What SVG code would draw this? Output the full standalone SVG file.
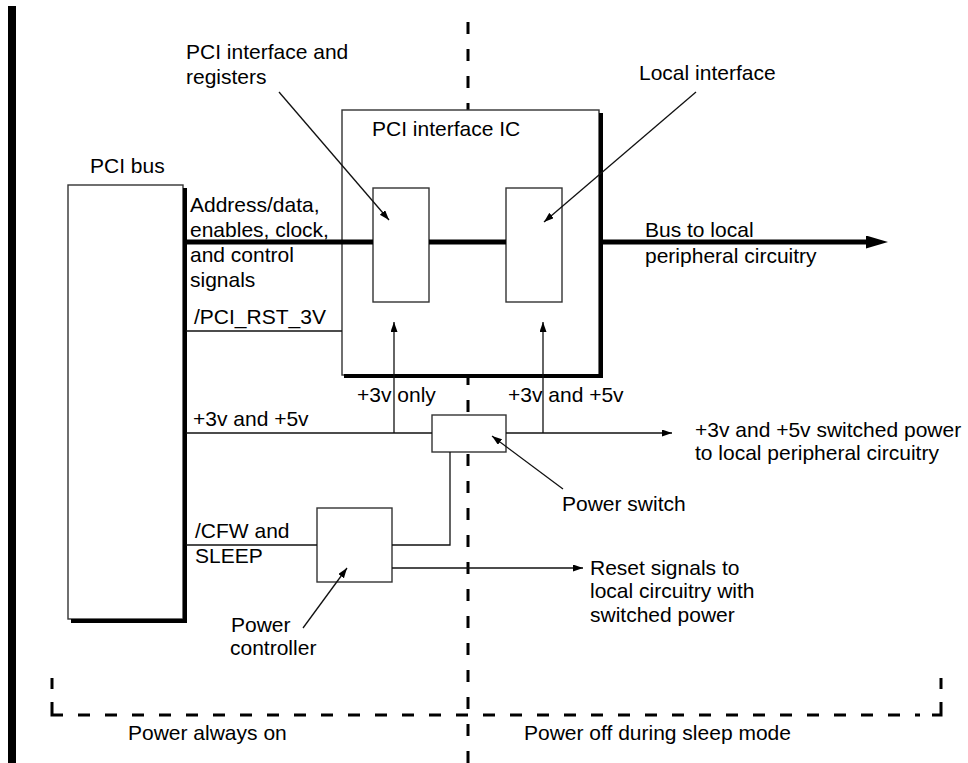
<svg xmlns="http://www.w3.org/2000/svg" width="968" height="763" viewBox="0 0 968 763">
<style>
  text { font-family: "Liberation Sans", Arial, Helvetica, sans-serif; font-size: 21px; fill: #000; }
  .box { fill: #fff; stroke: #333; stroke-width: 1.4; }
  .shadow { fill: none; stroke: #000; stroke-width: 4; }
  .thin { fill: none; stroke: #111; stroke-width: 1.3; }
  .bus { fill: none; stroke: #000; stroke-width: 5; }
  .dash { fill: none; stroke: #000; stroke-width: 3; }
</style>
<defs>
  <marker id="ah" markerUnits="userSpaceOnUse" markerWidth="10" markerHeight="8" refX="10" refY="3.5" orient="auto">
    <path d="M0,0 L10,3.5 L0,7 z" fill="#000"/>
  </marker>
  <marker id="bigah" markerUnits="userSpaceOnUse" markerWidth="23" markerHeight="14" refX="0" refY="6.5" orient="auto">
    <path d="M0,0 L22,6.5 L0,13 z" fill="#000"/>
  </marker>
</defs>
<rect width="968" height="763" fill="#fff"/>

<!-- left border bar -->
<rect x="8" y="6" width="8" height="757" fill="#000"/>

<!-- power domain separators -->
<g id="domains">
  <line class="dash" x1="468" y1="22" x2="468" y2="763" stroke-dasharray="12 15"/>
  <line class="dash" x1="52" y1="678" x2="52" y2="689"/>
  <polyline class="dash" points="52,702 52,715 63,715"/>
  <line class="dash" x1="78" y1="715" x2="920" y2="715" stroke-dasharray="12 15"/>
  <line class="dash" x1="941" y1="678" x2="941" y2="689"/>
  <polyline class="dash" points="932,715 941,715 941,702"/>
  <text x="128" y="740">Power always on</text>
  <text x="524" y="740">Power off during sleep mode</text>
</g>

<g id="pci-bus">
  <rect class="box" x="68" y="185" width="115" height="434"/>
  <polyline class="shadow" points="185,188 185,621 71,621"/>
  <text x="90" y="173">PCI bus</text>
</g>

<g id="pci-ic">
  <rect class="box" x="342" y="110" width="257" height="265"/>
  <polyline class="shadow" points="601,113 601,376 344,376"/>
  <text x="372" y="136">PCI interface IC</text>
</g>

<g id="pci-regs">
  <rect class="box" x="373" y="188" width="56" height="114"/>
</g>

<g id="local-if">
  <rect class="box" x="506" y="188" width="56" height="114"/>
</g>

<g id="power-switch">
  <rect class="box" x="432" y="415" width="74" height="37"/>
</g>

<g id="power-controller">
  <rect class="box" x="317" y="508" width="75" height="74"/>
</g>

<g id="connectors">
  <!-- main bus -->
  <line class="bus" x1="186" y1="242" x2="373" y2="242"/>
  <line class="bus" x1="429" y1="242" x2="506" y2="242"/>
  <line class="bus" x1="603" y1="242" x2="866" y2="242" marker-end="url(#bigah)"/>
  <!-- reset -->
  <line class="thin" x1="186" y1="331" x2="342" y2="331"/>
  <!-- power -->
  <line class="thin" x1="186" y1="433" x2="432" y2="433"/>
  <line class="thin" x1="506" y1="433" x2="672" y2="433" marker-end="url(#ah)"/>
  <line class="thin" x1="394" y1="433" x2="394" y2="322" marker-end="url(#ah)"/>
  <line class="thin" x1="543" y1="433" x2="543" y2="322" marker-end="url(#ah)"/>
  <!-- control -->
  <line class="thin" x1="186" y1="545" x2="317" y2="545"/>
  <polyline class="thin" points="392,545 450,545 450,452"/>
  <line class="thin" x1="392" y1="568" x2="583" y2="568" marker-end="url(#ah)"/>
  <!-- callout arrows -->
  <line class="thin" x1="279" y1="92" x2="389" y2="220" marker-end="url(#ah)"/>
  <line class="thin" x1="696" y1="92" x2="544" y2="222" marker-end="url(#ah)"/>
  <line class="thin" x1="563" y1="489" x2="492" y2="436" marker-end="url(#ah)"/>
  <line class="thin" x1="303" y1="628" x2="347" y2="568" marker-end="url(#ah)"/>
</g>

<g id="labels">
  <text x="186" y="59">PCI interface and</text>
  <text x="186" y="84">registers</text>
  <text x="639" y="80">Local interface</text>
  <text x="190" y="212">Address/data,</text>
  <text x="190" y="237">enables, clock,</text>
  <text x="190" y="262">and control</text>
  <text x="190" y="287">signals</text>
  <text x="194" y="324">/PCI_RST_3V</text>
  <text x="645" y="237">Bus to local</text>
  <text x="645" y="263">peripheral circuitry</text>
  <text x="357" y="402">+3v only</text>
  <text x="508" y="402">+3v and +5v</text>
  <text x="193" y="426">+3v and +5v</text>
  <text x="695" y="437">+3v and +5v switched power</text>
  <text x="695" y="460">to local peripheral circuitry</text>
  <text x="562" y="511">Power switch</text>
  <text x="195" y="538">/CFW and</text>
  <text x="195" y="563">SLEEP</text>
  <text x="590" y="575">Reset signals to</text>
  <text x="590" y="598">local circuitry with</text>
  <text x="590" y="622">switched power</text>
  <text x="231" y="632">Power</text>
  <text x="230" y="655">controller</text>
</g>
</svg>
